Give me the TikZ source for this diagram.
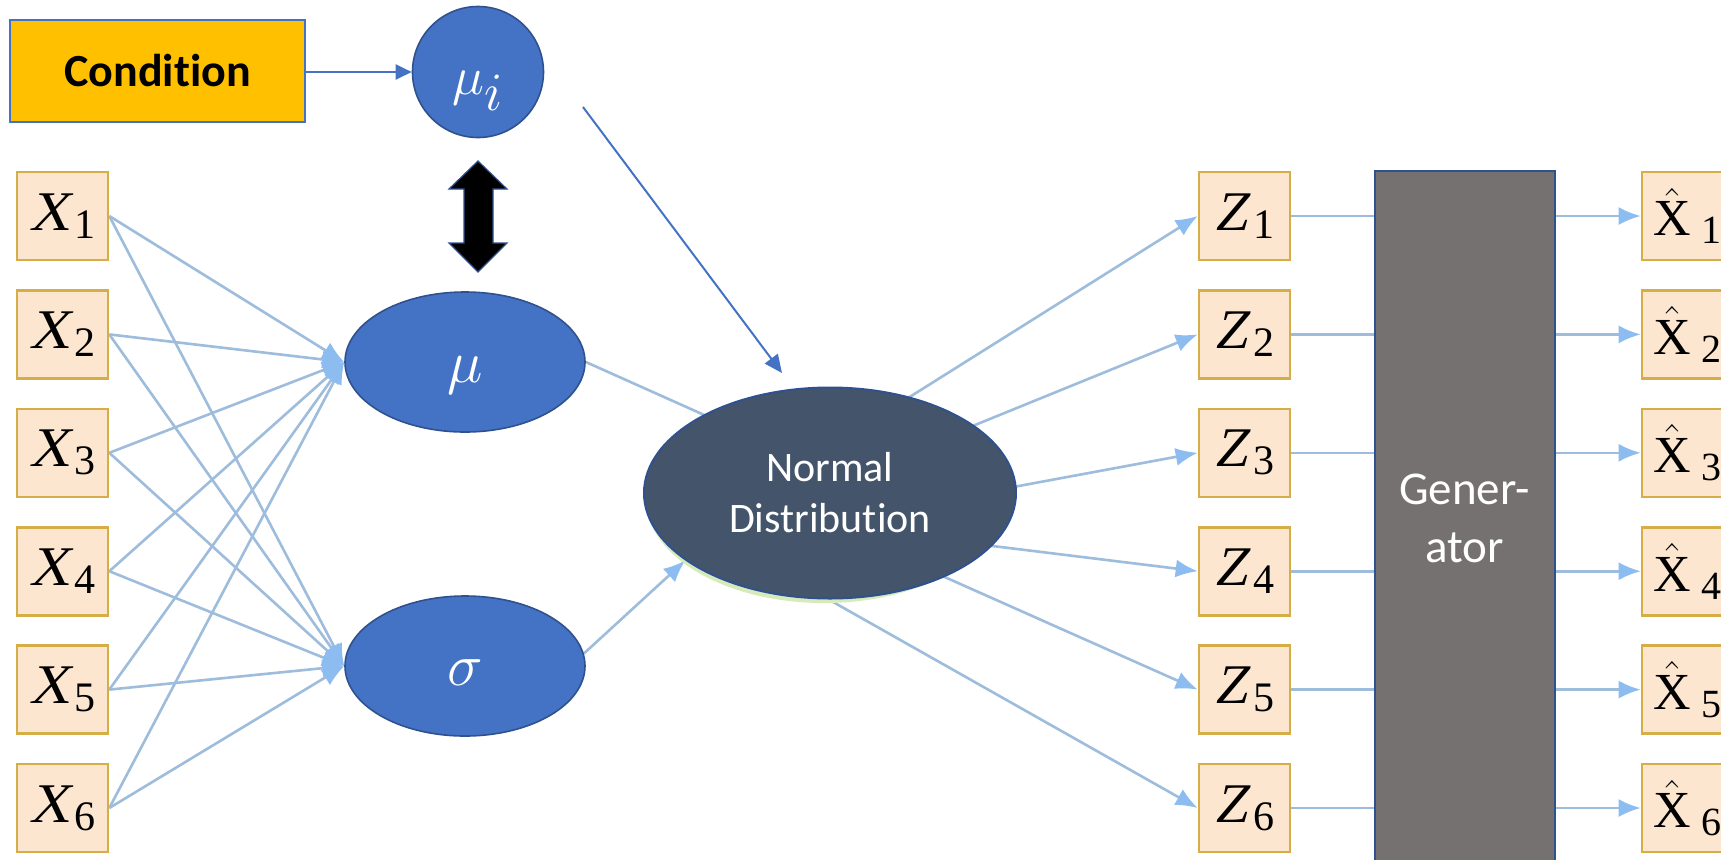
\RequirePackage{fix-cm}
\documentclass[tikz,border=0pt]{standalone}
\usepackage{fontspec}
\setmainfont{Liberation Serif}
\newfontfamily\slantserif[FakeSlant=0.2]{Liberation Serif}
\newfontfamily\calibfont[Ligatures=NoCommon]{Carlito}
\usetikzlibrary{arrows.meta,shapes.geometric}

\definecolor{condfill}{HTML}{FFC000}
\definecolor{accentblue}{HTML}{4472C4}
\definecolor{edgeblue}{HTML}{2F528F}
\definecolor{slate}{HTML}{44546A}
\definecolor{gengray}{HTML}{767171}
\definecolor{peach}{HTML}{FCE6CF}
\definecolor{gold}{HTML}{D6AE48}
\definecolor{netcol}{RGB}{158,188,220}
\definecolor{netheadcol}{RGB}{140,188,240}
\definecolor{shadowgreen}{RGB}{214,234,186}

% slanted variable with a large upright subscript
\newcommand\xvar[2]{{\slantserif #1}\hspace{2pt}\raisebox{-4pt}{\fontsize{21}{21}\selectfont #2}}
% reconstructed variable with a hat
\newcommand\xhatvar[1]{$\hat{\hbox{X}}$\hspace{5pt}\raisebox{-4pt}{\fontsize{20}{20}\selectfont #1}}

\pgfdeclarelayer{background}
\pgfsetlayers{background,main}

\tikzset{
  inbox/.style={draw=gold, line width=1.3pt, fill=peach, minimum width=45.5pt,
    minimum height=44pt, inner sep=0pt, font=\fontsize{28}{30}\selectfont},
  outbox/.style={inbox, font=\fontsize{26}{28}\selectfont},
  blueball/.style={ellipse, draw=edgeblue, line width=0.8pt, fill=accentblue,
    text=white, inner sep=0pt, text depth=0pt, font=\fontsize{30}{32}\selectfont},
  netlink/.style={draw=netcol, line width=1.3pt},
  netarrow/.style={netlink, -{Latex[length=11pt,width=9pt,color=netheadcol]}},
  bluearrow/.style={draw=accentblue, line width=1pt, -{Triangle[length=8pt,width=7.5pt]}},
}

\begin{document}
\begin{tikzpicture}[x=0.5pt,y=-0.5pt]
\useasboundingbox (0,0) rectangle (1721,859);
\clip (0,0) rectangle (1721,859);

% condition and conditional mean
\node[draw=accentblue, line width=1pt, fill=condfill, minimum width=147.5pt,
  minimum height=51pt, inner sep=0pt, font=\calibfont\bfseries\fontsize{23}{26}\selectfont]
  (cond) at (157.5,71) {Condition};
\node[blueball, minimum width=65.5pt, minimum height=65.5pt, text height=22pt,
  font=\fontsize{27}{30}\selectfont]
  (mui) at (478,72) {$\mu_{\textstyle i}$};

% encoder outputs
\node[blueball, minimum width=120pt, minimum height=70pt, text height=20pt] (mu) at (465,362) {$\mu$};
\node[blueball, minimum width=120pt, minimum height=70pt, text height=19pt] (sig) at (465,666) {$\sigma$};

% sampling node
\node[ellipse, fill=shadowgreen, minimum width=178pt, minimum height=104pt, inner sep=0pt]
  (ndshadow) at (824,499) {};
\node[ellipse, draw=edgeblue, line width=1pt, fill=slate, text=white, align=center,
  minimum width=186pt, minimum height=105.5pt, inner sep=0pt,
  font=\calibfont\fontsize{21}{25.5}\selectfont]
  (nd) at (830,493) {Normal\\Distribution};

% generator block
\node[draw=edgeblue, line width=1pt, fill=gengray, text=white, align=center,
  minimum width=90pt, minimum height=347pt, inner sep=0pt,
  font=\calibfont\fontsize{23.5}{29}\selectfont]
  (gen) at (1464.5,518) {Gener-\\ator};

% input, latent and output units
\foreach \i in {1,...,6} {
  \pgfmathsetmacro\yy{216+118.4*(\i-1)}
  \node[inbox] (x\i) at (62.5,\yy) {\xvar{X}{\i}};
  \node[inbox] (z\i) at (1244.5,\yy) {\xvar{Z}{\i}};
  \node[outbox] (xh\i) at (1687.5,\yy) {\xhatvar{\i}};
}

% latent sampling points hidden behind the distribution node
\coordinate (zs1) at (830,447);
\coordinate (zs2) at (830,484);
\coordinate (zs3) at (830,521);
\coordinate (zs4) at (830,526);
\coordinate (zs5) at (830,526);
\coordinate (zs6) at (780,572);
\coordinate (muin) at (740,431);

\begin{pgfonlayer}{background}
  \fill[white] (0,0) rectangle (1721,859);
  \foreach \i in {1,...,6} {
    \draw[netarrow] (x\i.east) -- (mu.west);
    \draw[netarrow] (x\i.east) -- (sig.west);
    \draw[netarrow] (zs\i) -- (z\i.west);
    \draw[netarrow] (z\i.east) -- (xh\i.west);
  }
  \draw[netlink] (mu.east) -- (muin);
  \draw[netarrow] (sig.6) -- (nd.205);
\end{pgfonlayer}

% condition links
\draw[bluearrow] (cond.east |- mui.west) -- (mui.west);
\coordinate (mtail) at (583,107);
\coordinate (mtip) at (782,373);
\draw[bluearrow, -{Triangle[length=9pt,width=8pt]}] (mtail) -- (mtip);

% two-way correspondence between mu_i and mu
\draw[fill=black, draw=edgeblue, line width=0.6pt]
  (478,161) -- (507,189) -- (493,189) -- (493,243) -- (507,243) -- (478,272)
  -- (449,243) -- (464,243) -- (464,189) -- (449,189) -- cycle;
\end{tikzpicture}
\end{document}
